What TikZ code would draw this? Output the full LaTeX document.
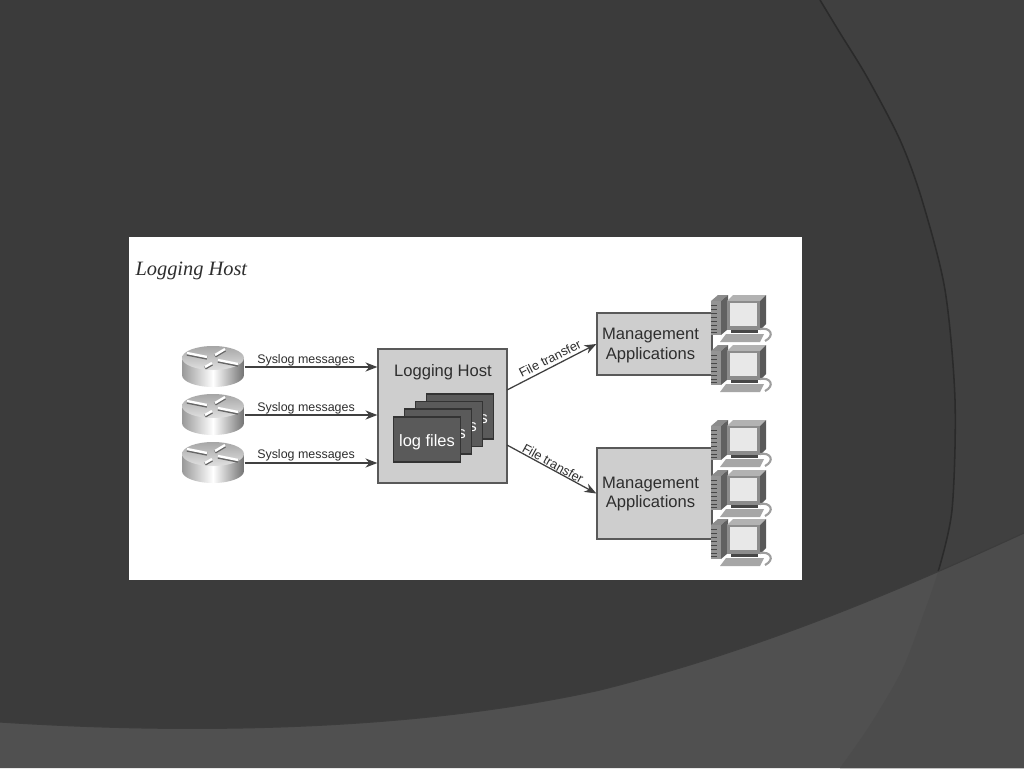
\documentclass[tikz,border=0pt]{standalone}
\usepackage{fontspec}
\setmainfont{Liberation Sans}
\newfontfamily\titlefont{Liberation Serif}
\usetikzlibrary{arrows.meta}
\definecolor{slatemain}{HTML}{3B3B3B}
\definecolor{slateright}{HTML}{404040}
\definecolor{slateband}{HTML}{505050}
\definecolor{slatecorner}{HTML}{4C4C4C}
\definecolor{boxgray}{HTML}{CECECE}
\definecolor{cardgray}{HTML}{5A5A5A}
\definecolor{inkgray}{HTML}{2E2E2E}
\newcommand{\cardlabel}{\raisebox{0pt}[13pt][3pt]{log files}}
\tikzstyle{hostbox}=[draw=black!65, fill=boxgray, line width=0.9pt, inner sep=0pt]
\tikzstyle{cardbox}=[draw=black!80, fill=cardgray, line width=1pt, inner sep=0pt, text=white,
  minimum width=67*0.25mm, minimum height=45*0.25mm, font=\fontsize{11.7}{14}\selectfont]
\tikzstyle{syslogtext}=[inner sep=0pt, text=inkgray, font=\fontsize{8.85}{10}\selectfont]
\tikzstyle{filetext}=[inner sep=0pt, text=inkgray, font=\fontsize{9.1}{11}\selectfont]
\tikzstyle{boxtext}=[inner sep=0pt, text=inkgray, align=center, font=\fontsize{11.8}{13.6}\selectfont]
\tikzstyle{routerspot}=[inner sep=0pt, minimum width=62*0.25mm, minimum height=1pt]
\tikzstyle{feed}=[-{Stealth[length=8.5pt,width=6.5pt]}, line width=0.9pt, draw=black!75]
\tikzset{
  pics/routerpic/.style={code={
    \path[left color=black!40, right color=black!55, middle color=white]
      (-31,-9) -- (-31,8) arc (180:0:31 and 12) -- (31,-9) -- cycle;
    \path[top color=black!35, bottom color=black!12] (0,-9) ellipse (31 and 12);
    \draw[black!60, line width=2.4pt] (-26,-13) -- (-6,-9);
    \draw[black!60, line width=2.4pt] (2,-11) -- (12,-17);
    \draw[black!60, line width=2.4pt] (5,-6) -- (25,-2);
    \draw[black!60, line width=2.4pt] (-8,1) -- (-1,-3);
    \draw[white, line width=1.7pt] (-26,-14) -- (-6,-10);
    \draw[white, line width=1.7pt] (2,-12) -- (12,-18);
    \draw[white, line width=1.7pt] (5,-7) -- (25,-3);
    \draw[white, line width=1.7pt] (-8,0) -- (-1,-4);
  }},
  pics/deskpic/.style={code={
    \fill[black!45] (0,6) -- (7,0) -- (17,0) -- (10,6) -- cycle;
    \fill[black!62] (10,6) -- (17,0) -- (17,34) -- (10,40) -- cycle;
    \fill[black!42] (0,6) rectangle (10,40);
    \draw[black!72, line width=0.5pt] (0,10) -- (6,10) (0,14) -- (6,14) (0,18) -- (6,18)
      (0,22) -- (6,22) (0,26) -- (6,26) (0,30) -- (6,30) (0,34) -- (6,34) (0,37) -- (6,37);
    \fill[black!30] (16,6) -- (22,0) -- (55,0) -- (49,6) -- cycle;
    \fill[black!65] (49,6) -- (55,0) -- (55,29) -- (49,35) -- cycle;
    \fill[black!45] (16,6) rectangle (49,35);
    \fill[black!9] (19,8) rectangle (46,31);
    \fill[black!72] (20,35) rectangle (47,38);
    \fill[black!35] (9,47) -- (15,39) -- (53,39) -- (49,47) -- cycle;
    \draw[black!38, line width=1.5pt] (49,34) .. controls (60,32) and (64,41) .. (54,46);
  }}
}
\begin{document}
\begin{tikzpicture}[x=0.25mm, y=-0.25mm, thick]
  \useasboundingbox (0,0) rectangle (1024,768);
  \fill[slatemain] (0,0) rectangle (1024,768);
  \fill[slateright] plot[smooth] coordinates {(820,0) (840,33) (867,77) (900,140) (922,200) (945,290) (955,400) (952,510) (938,572) (925,610) (902,670) (870,725) (840,768)}
    -- (1024,768) -- (1024,0) -- cycle;
  \draw[black!35!slateright, line width=1.1pt] plot[smooth] coordinates {(820,0) (840,33) (867,77) (900,140) (922,200) (945,290) (955,400) (952,510) (938,572)};
  \fill[slateband] (0,722) .. controls (200,735) and (420,730) .. (600,690) .. controls (760,650) and (900,590) .. (1024,533)
    -- (1024,768) -- (0,768) -- cycle;
  \begin{scope}
    \clip (0,722) .. controls (200,735) and (420,730) .. (600,690) .. controls (760,650) and (900,590) .. (1024,533)
      -- (1024,768) -- (0,768) -- cycle;
    \fill[slatecorner] plot[smooth] coordinates {(945,540) (938,572) (925,610) (902,670) (870,725) (840,768)}
      -- (1024,768) -- (1024,500) -- cycle;
  \end{scope}
  \draw[black!25!slateband, line width=0.8pt] (0,722) .. controls (200,735) and (420,730) .. (600,690) .. controls (760,650) and (900,590) .. (1024,533);
  \fill[white] (129,237) rectangle (802,580);

  \node[inner sep=0pt, anchor=west, text=inkgray, font=\titlefont\itshape\fontsize{14.5}{17}\selectfont] (title) at (135,270.5) {Logging Host};

  \node[routerspot] (router1) at (213,367) {};
  \node[routerspot] (router2) at (213,415) {};
  \node[routerspot] (router3) at (213,463) {};
  \path (router1) pic {routerpic};
  \path (router2) pic {routerpic};
  \path (router3) pic {routerpic};

  \node[hostbox, minimum width=129*0.25mm, minimum height=134*0.25mm] (host) at (442.5,416) {};
  \node[boxtext] (hosttext) at (443,372) {Logging Host};
  \node[cardbox] (card4) at (460,416.5) {\cardlabel};
  \node[cardbox] (card3) at (449,424) {\cardlabel};
  \node[cardbox] (card2) at (438,431.5) {\cardlabel};
  \node[cardbox] (card1) at (427,439.5) {\cardlabel};

  \node[hostbox, minimum width=115*0.25mm, minimum height=62*0.25mm] (mgmtA) at (654.5,344) {};
  \node[hostbox, minimum width=115*0.25mm, minimum height=91*0.25mm] (mgmtB) at (654.5,493.5) {};
  \node[boxtext] (mgmtAtext) at (650.5,345.5) {Management\\Applications};
  \node[boxtext] (mgmtBtext) at (650.5,494) {Management\\Applications};

  \path (711,295) pic {deskpic};
  \path (711,345) pic {deskpic};
  \path (711,420) pic {deskpic};
  \path (711,470) pic {deskpic};
  \path (711,519) pic {deskpic};

  \coordinate (hostA) at (507,390);
  \coordinate (hostB) at (507,445);
  \draw[feed] (router1.east) to (router1 -| host.west);
  \draw[feed] (router2.east) to (router2 -| host.west);
  \draw[feed] (router3.east) to (router3 -| host.west);
  \draw[feed] (hostA) to (mgmtA.west);
  \draw[feed] (hostB) to (mgmtB.west);

  \node[syslogtext] (syslog1) at (306,360) {Syslog messages};
  \node[syslogtext] (syslog2) at (306,408) {Syslog messages};
  \node[syslogtext] (syslog3) at (306,455) {Syslog messages};
  \node[filetext, rotate=27] (fileA) at (550,358.5) {File transfer};
  \node[filetext, rotate=-29] (fileB) at (553,463.5) {File transfer};
\end{tikzpicture}
\end{document}
